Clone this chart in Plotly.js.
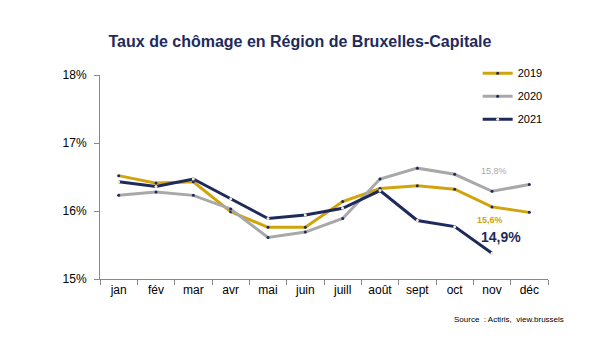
<!DOCTYPE html>
<html><head><meta charset="utf-8">
<script src="https://cdn.plot.ly/plotly-3.0.1.min.js"></script>
<style>body{margin:0;background:#fff}#c{width:600px;height:350px}</style>
</head><body><div id="c"></div>
<script>
const months = ['jan','fév','mar','avr','mai','juin','juill','août','sept','oct','nov','déc'];
const y2019 = [16.52,16.41,16.43,15.99,15.76,15.76,16.14,16.33,16.37,16.32,16.06,15.98];
const y2020 = [16.23,16.28,16.23,16.03,15.61,15.69,15.89,16.47,16.63,16.54,16.29,16.39];
const y2021 = [16.43,16.36,16.47,16.18,15.89,15.94,16.04,16.30,15.86,15.77,15.38];
const yTicks = [15,16,17,18];

const NAVY = '#1F2A5C', GOLD = '#D1A40C', GREY = '#A8A8A8';
const FONT = 'Liberation Sans, Arial, sans-serif';

function tr(name, y, color, mcolor, grp){
  return {x: months.slice(0, y.length), y: y, name: name, type:'scatter', mode:'lines+markers',
    line:{color:color, width:3}, marker:{color:mcolor, size:3}, legendgroup:grp};
}
const data = [
  tr('2019', y2019, GOLD, NAVY, 'a'),
  tr('2020', y2020, GREY, NAVY, 'b'),
  tr('2021', y2021, NAVY, '#F3EBD3', 'c')
];
const layout = {
  width:600, height:350,
  margin:{l:100, r:52, t:75, b:71},
  paper_bgcolor:'#fff', plot_bgcolor:'#fff',
  font:{family:FONT, size:12, color:'#000'},
  title:{text:'<b>Taux de chômage en Région de Bruxelles-Capitale</b>', x:0.5, xanchor:'center', y:0.883, yanchor:'middle',
    font:{family:FONT, size:16, color:NAVY}},
  showlegend:true,
  legend:{x:0.843, y:1.08, xanchor:'left', yanchor:'top', traceorder:'grouped', tracegroupgap:4,
    font:{family:FONT, size:11, color:'#000'}, bgcolor:'rgba(0,0,0,0)', itemwidth:30},
  xaxis:{type:'category', showgrid:false, showline:true, linecolor:'#888', linewidth:1,
    ticks:'outside', tickson:'boundaries', ticklen:5, tickcolor:'#888', range:[-0.5,11.5],
    tickfont:{family:FONT, size:12, color:'#000'}, zeroline:false, fixedrange:true},
  yaxis:{range:[15,18], tickvals:yTicks, ticktext:yTicks.map(v=>v+'%'), showgrid:false, showline:true,
    linecolor:'#888', linewidth:1, ticks:'outside', ticklen:5, tickcolor:'#888', zeroline:false,
    ticklabelstandoff:5, tickfont:{family:FONT, size:12, color:'#000'}, fixedrange:true},
  annotations:[
    {x:'nov', y:y2020[10], text:'15,8%', showarrow:false, yshift:20, xshift:2,
      font:{family:FONT, size:9, color:GREY}},
    {x:'nov', y:y2019[10], text:'<b>15,6%</b>', showarrow:false, yshift:-13, xshift:-2,
      font:{family:FONT, size:9, color:GOLD}},
    {x:'nov', y:y2021[10], text:'<b>14,9%</b>', showarrow:false, yshift:16, xshift:9,
      font:{family:FONT, size:14, color:NAVY}},
    {xref:'paper', yref:'paper', x:1.04, y:-0.2, xanchor:'right', yanchor:'middle', showarrow:false,
      text:'Source  : Actiris,  view.brussels', font:{family:FONT, size:8, color:'#000'}}
  ]
};
Plotly.newPlot('c', data, layout, {displayModeBar:false, staticPlot:true});
</script></body></html>
